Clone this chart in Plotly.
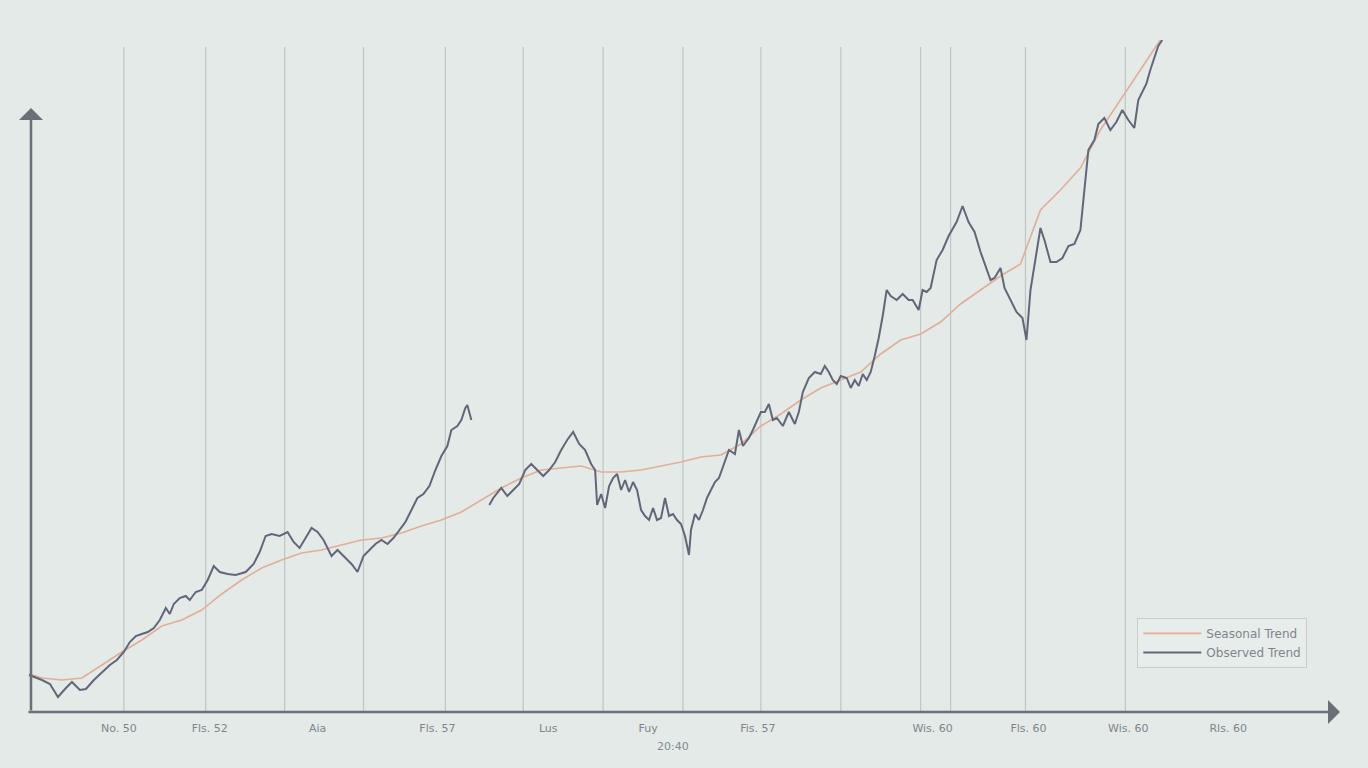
import plotly.graph_objects as go

# Observed series (time index, value); None marks a gap in the line
obs_t = [0, 13, 21, 29, 37, 43, 51, 57, 65, 73, 81, 88, 95, 101, 107, 113, 119, 125, 131, 137, 141, 145, 151, 157, 161, 167, 173, 179, 185, 191, 199, 207, 217, 225, 231, 237, 243, 251, 259, 265, 271, 277, 283, 289, 295, 303, 309, 315, 323, 329, 335, 341, 347, 353, 359, 365, 371, 377, 383, 389, 395, 401, 407, 413, 419, 423, 429, 433, 437, 439, 443,
         452,
         461, 465, 473, 479, 485, 491, 497, 503, 509, 515, 521, 527, 533, 539, 545, 551, 557, 563, 567, 569, 573, 577, 581, 585, 589, 593, 597, 601, 605, 609, 613, 617, 621, 625, 629, 633, 637, 641, 645, 649, 653, 657, 661, 663, 667, 671, 675, 679, 683, 687, 691, 697, 701, 707, 711, 715, 721, 725, 729, 733, 737, 741, 745, 749, 755, 761, 767, 771, 775, 781, 787, 793, 797, 801, 805, 809, 813, 819, 823, 827, 831, 835, 839, 843, 847, 851, 855, 859, 863, 869, 875, 881, 885, 891, 895, 899, 903, 909, 915, 921, 929, 935, 941, 947, 953, 959, 963, 967, 973, 977, 983, 989, 995, 999, 1003, 1009, 1013, 1017, 1023, 1029, 1035, 1041, 1047, 1053, 1057, 1061, 1067, 1071, 1077, 1083, 1089, 1095, 1101, 1107, 1111, 1115, 1119, 1123, 1127, 1131, 1135]
obs_v = [37, 32, 28, 15, 24, 30, 22, 23, 32, 40, 47, 52, 60, 70, 76, 78, 80, 84, 92, 104, 98, 108, 114, 116, 112, 120, 122, 132, 146, 140, 138, 137, 140, 148, 160, 176, 178, 176, 180, 170, 164, 174, 184, 180, 172, 156, 162, 156, 148, 140, 156, 162, 168, 172, 168, 174, 182, 190, 202, 214, 218, 226, 242, 256, 266, 282, 286, 292, 304, 307, 292,
         None,
         207, 214, 224, 216, 222, 228, 242, 248, 242, 236, 242, 250, 262, 272, 280, 268, 262, 248, 242, 207, 218, 204, 226, 234, 238, 222, 232, 220, 230, 222, 202, 196, 192, 204, 192, 194, 214, 196, 198, 192, 188, 176, 157, 182, 198, 192, 202, 214, 222, 230, 234, 252, 262, 258, 282, 266, 274, 282, 292, 300, 300, 308, 292, 294, 286, 300, 288, 300, 320, 334, 340, 338, 346, 340, 332, 328, 336, 334, 324, 332, 326, 338, 332, 340, 356, 374, 396, 422, 416, 412, 418, 412, 412, 402, 422, 420, 424, 452, 462, 476, 490, 506, 490, 480, 460, 444, 432, 434, 444, 424, 412, 400, 394, 372, 422, 458, 484, 472, 450, 450, 454, 466, 468, 482, 522, 562, 572, 588, 594, 582, 590, 602, 592, 584, 612, 620, 628, 642, 654, 666, 672]

# Smoothed trend series
trend_t = [0, 13, 33, 53, 73, 93, 113, 133, 153, 173, 193, 213, 233, 253, 273, 293, 313, 333, 353, 373, 393, 413, 433, 453, 473, 493, 513, 533, 553, 573, 593, 613, 633, 653, 673, 693, 713, 733, 753, 773, 793, 813, 833, 853, 873, 893, 913, 933, 953, 973, 993, 1013, 1033, 1053, 1073, 1093, 1113, 1133]
trend_v = [38, 34, 32, 34, 47, 60, 72, 86, 92, 102, 118, 132, 144, 152, 159, 162, 167, 172, 174, 179, 186, 192, 200, 212, 224, 234, 242, 244, 246, 240, 240, 242, 246, 250, 255, 257, 268, 286, 298, 312, 324, 332, 340, 358, 372, 378, 390, 408, 422, 436, 448, 502, 522, 544, 582, 612, 642, 672]

# Axis tick labels and vertical guide positions
tick_pos = [90, 181, 289, 409, 520, 620, 730, 905, 1001, 1101, 1201]
tick_text = ["No. 50", "Fls. 52", "Aia", "Fls. 57", "Lus", "Fuy", "Fis. 57", "Wis. 60", "Fls. 60", "Wis. 60", "Rls. 60"]
grid_pos = [95, 177, 256, 335, 417, 495, 575, 655, 733, 813, 893, 923, 998, 1098]

series_names = ["Seasonal Trend", "Observed Trend"]
x_title = "20:40"

bg = "#e3eae7"

fig = go.Figure()
fig.add_trace(go.Scatter(x=trend_t, y=trend_v, mode="lines", name=series_names[0],
                         line=dict(color="#e4ad96", width=1.6), connectgaps=False))
fig.add_trace(go.Scatter(x=obs_t, y=obs_v, mode="lines", name=series_names[1],
                         line=dict(color="#62667a", width=2), connectgaps=False))

for g in grid_pos:
    fig.add_shape(type="line", x0=g, x1=g, y0=0, y1=665, xref="x", yref="y",
                  line=dict(color="rgba(110,115,120,0.30)", width=1.2), layer="below")

axis_col = "#6b7078"
# x-axis arrow
fig.add_annotation(x=1313, y=0, ax=-2, ay=0, xref="x", yref="y", axref="x", ayref="y",
                   showarrow=True, arrowhead=1, arrowsize=1.6, arrowwidth=2.5, arrowcolor=axis_col, text="")
# y-axis arrow
fig.add_annotation(x=2, y=604, ax=2, ay=0, xref="x", yref="y", axref="x", ayref="y",
                   showarrow=True, arrowhead=1, arrowsize=1.6, arrowwidth=2.5, arrowcolor=axis_col, text="")

fig.add_annotation(x=645, y=-0.038, xref="x", yref="paper", yanchor="top", text=x_title, showarrow=False,
                   font=dict(size=11, color="#858a92"))

fig.update_layout(
    width=1368, height=768,
    margin=dict(l=27, r=27, t=40, b=56),
    paper_bgcolor=bg, plot_bgcolor=bg,
    font=dict(family="DejaVu Sans", color="#80858d"),
    showlegend=True,
    legend=dict(x=0.845, y=0.14, xanchor="left", yanchor="top",
                bgcolor="rgba(232,238,236,0.7)", bordercolor="#c9cecd", borderwidth=1,
                font=dict(size=12, color="#80858d"), tracegroupgap=0, itemwidth=58),
)
fig.update_xaxes(range=[-2, 1314], showgrid=False, zeroline=False, showline=False,
                 tickmode="array", tickvals=tick_pos, ticktext=tick_text,
                 tickfont=dict(size=11, color="#80858d"), ticks="", ticklabelstandoff=8)
fig.update_yaxes(range=[0, 672], showgrid=False, zeroline=False, showline=False,
                 showticklabels=False, ticks="")

fig.write_html("out.html", config={"displayModeBar": False},
               post_script="document.body.style.margin='0';document.body.style.overflow='hidden';"
                           "document.body.style.background='" + bg + "';")
